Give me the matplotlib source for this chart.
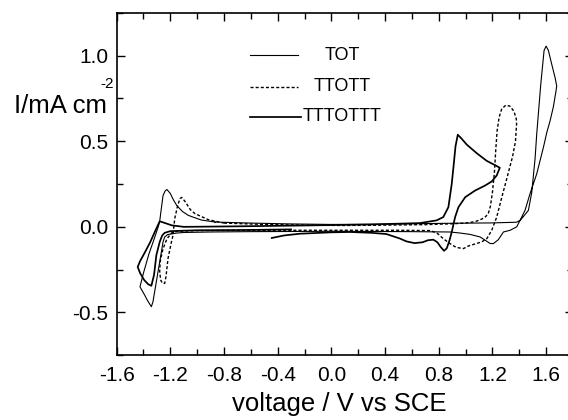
import matplotlib
matplotlib.use('Agg')
import matplotlib.pyplot as plt
from matplotlib.ticker import MultipleLocator

plt.rcParams['font.family'] = ['Liberation Sans', 'DejaVu Sans']
plt.rcParams['axes.unicode_minus'] = False

# Cyclic voltammograms (potential in V vs SCE, current density in mA cm^-2)
names = ['TOT', 'TTOTT', 'TTTOTTT']

tot_v = [-0.867, -0.6, -0.3, 0.0, 0.3, 0.6, 0.9, 1.2, 1.38, 1.406, 1.431, 1.468, 1.493,
         1.518, 1.53, 1.56, 1.585, 1.6, 1.617, 1.642, 1.667, 1.679, 1.674, 1.654, 1.63,
         1.605, 1.58, 1.53, 1.48, 1.443, 1.406, 1.381, 1.332, 1.282, 1.244, 1.207, 1.182,
         1.15, 1.108, 1.033, 0.958, 0.884, 0.6, 0.3, 0.0, -0.3, -0.6, -0.9, -1.1, -1.15,
         -1.22, -1.242, -1.254, -1.279, -1.304, -1.329, -1.341, -1.37, -1.39, -1.426,
         -1.4, -1.36, -1.32, -1.29, -1.279, -1.267, -1.254, -1.238, -1.225, -1.2, -1.175,
         -1.152, -1.11, -1.066, -0.97, -0.867]
tot_i = [0.028, 0.022, 0.017, 0.014, 0.015, 0.018, 0.021, 0.023, 0.027, 0.038, 0.06, 0.096, 0.2,
         0.4, 0.54, 0.83, 1.03, 1.055, 1.03, 0.949, 0.871, 0.823, 0.794, 0.7, 0.62,
         0.55, 0.464, 0.309, 0.193, 0.096, 0.038, 0.0, -0.02, -0.03, -0.075, -0.098, -0.097,
         -0.08, -0.059, -0.044, -0.036, -0.03, -0.028, -0.027, -0.026, -0.027, -0.028, -0.03, -0.033, -0.036,
         -0.045, -0.06, -0.088, -0.205, -0.32, -0.437, -0.466, -0.43, -0.4, -0.35,
         -0.27, -0.16, -0.07, 0.0, 0.032, 0.106, 0.183, 0.21, 0.218, 0.195, 0.155,
         0.125, 0.09, 0.067, 0.04, 0.028]

ttott_v = [-0.8, -0.5, -0.2, 0.1, 0.4, 0.7, 0.9, 1.0, 1.07, 1.12, 1.15, 1.17, 1.185, 1.2,
           1.215, 1.225, 1.235, 1.25, 1.27, 1.3, 1.33, 1.36, 1.378, 1.38, 1.372, 1.35,
           1.31, 1.27, 1.232, 1.195, 1.158, 1.12, 1.07, 1.02, 0.984, 0.93, 0.884, 0.834,
           0.785, 0.735, 0.5, 0.2, -0.2, -0.6, -1.0, -1.15, -1.19, -1.225, -1.255, -1.275,
           -1.279, -1.272, -1.258, -1.242, -1.232, -1.217, -1.195, -1.18, -1.167, -1.145,
           -1.128, -1.115, -1.09, -1.05, -1.016, -0.917, -0.8]
ttott_i = [0.022, 0.014, 0.01, 0.008, 0.01, 0.013, 0.018, 0.022, 0.03, 0.045, 0.06, 0.08, 0.12, 0.2,
           0.32, 0.45, 0.56, 0.64, 0.69, 0.71, 0.705, 0.675, 0.63, 0.6, 0.5, 0.41,
           0.29, 0.173, 0.057, -0.02, -0.069, -0.088, -0.1, -0.112, -0.127, -0.12, -0.098, -0.069,
           -0.035, -0.022, -0.02, -0.02, -0.02, -0.02, -0.022, -0.026, -0.035, -0.07, -0.13, -0.2,
           -0.26, -0.31, -0.33, -0.33, -0.29, -0.185, -0.1, -0.05, 0.048, 0.125,
           0.165, 0.172, 0.148, 0.1, 0.077, 0.042, 0.022]

tttottt_v = [-0.444, -0.35, -0.233, 0.0, 0.14, 0.3, 0.41, 0.46, 0.51, 0.56, 0.62, 0.68, 0.72,
             0.76, 0.79, 0.815, 0.84, 0.86, 0.88, 0.897, 0.922, 0.947, 0.997, 1.071, 1.145,
             1.195, 1.232, 1.255, 1.22, 1.158, 1.083, 1.009, 0.97, 0.942, 0.925, 0.91, 0.897,
             0.872, 0.834, 0.785, 0.661, 0.3, -0.2, -0.7, -1.1, -1.19, -1.25, -1.279, -1.31,
             -1.35, -1.39, -1.425, -1.443, -1.425, -1.395, -1.365, -1.341, -1.321, -1.304,
             -1.279, -1.26, -1.242, -1.2, -1.0, -0.6, -0.3]
tttottt_i = [-0.065, -0.05, -0.04, -0.032, -0.03, -0.035, -0.042, -0.055, -0.068, -0.085, -0.095, -0.09, -0.078,
             -0.075, -0.09, -0.118, -0.14, -0.125, -0.08, -0.03, 0.057, 0.115, 0.173, 0.212, 0.241,
             0.265, 0.3, 0.345, 0.36, 0.385, 0.43, 0.48, 0.515, 0.538, 0.47, 0.35, 0.251,
             0.115, 0.057, 0.038, 0.022, 0.014, 0.008, 0.003, 0.0, 0.009, 0.025, 0.032, -0.02,
             -0.09, -0.15, -0.2, -0.234, -0.27, -0.31, -0.335, -0.344, -0.28, -0.166,
             -0.088, -0.05, -0.035, -0.025, -0.02, -0.018, -0.015]

fig = plt.figure(figsize=(5.68, 4.2), dpi=100)
ax = fig.add_axes([0.2053, 0.154, 0.8034, 0.8157])

dash = (0, (2.2, 1.5))
ax.plot(tot_v, tot_i, color='black', lw=0.8)
ax.plot(ttott_v, ttott_i, color='black', lw=1.0, ls=dash)
ax.plot(tttottt_v, tttottt_i, color='black', lw=1.25)

ax.set_xlim(-1.6, 1.8)
ax.set_ylim(-0.75, 1.25)
ax.xaxis.set_major_locator(MultipleLocator(0.4))
ax.xaxis.set_minor_locator(MultipleLocator(0.2))
ax.yaxis.set_major_locator(MultipleLocator(0.5))
ax.yaxis.set_minor_locator(MultipleLocator(0.25))
ax.xaxis.set_major_formatter(plt.FuncFormatter(lambda v, p: '{:.1f}'.format(v + 0.0)))
ax.yaxis.set_major_formatter(plt.FuncFormatter(lambda v, p: '{:.1f}'.format(v + 0.0)))
ax.tick_params(which='both', direction='in', top=True, right=True, width=1.0, labelsize=15)
ax.tick_params(axis='x', which='both', pad=8)
ax.tick_params(axis='y', which='both', pad=6)
ax.tick_params(which='major', length=5.5)
ax.tick_params(which='minor', length=4)
for sp in ax.spines.values():
    sp.set_linewidth(1.2)

ax.set_xlabel('voltage / V vs SCE', fontsize=18.5)
ax.xaxis.set_label_coords(0.4885, -0.108)
fig.text(107 / 568, 1 - 113 / 420, 'I/mA cm', fontsize=18.5, ha='right', va='baseline')
fig.text(100 / 568, 1 - 88 / 420, '-2', fontsize=11, ha='left', va='baseline')

# legend drawn by hand: sample line + centred label
styles = [dict(lw=0.8), dict(lw=1.0, ls=dash), dict(lw=1.25)]
rows = [0.8765, 0.784, 0.696]
ends = [0.398, 0.398, 0.405]
for name, st, yy, xe in zip(names, styles, rows, ends):
    ax.plot([0.292, xe], [yy, yy], transform=ax.transAxes, color='black', **st)
    ax.text(0.494, yy, name, transform=ax.transAxes, fontsize=13, ha='center', va='center')

fig.savefig('out.png', dpi=100)
